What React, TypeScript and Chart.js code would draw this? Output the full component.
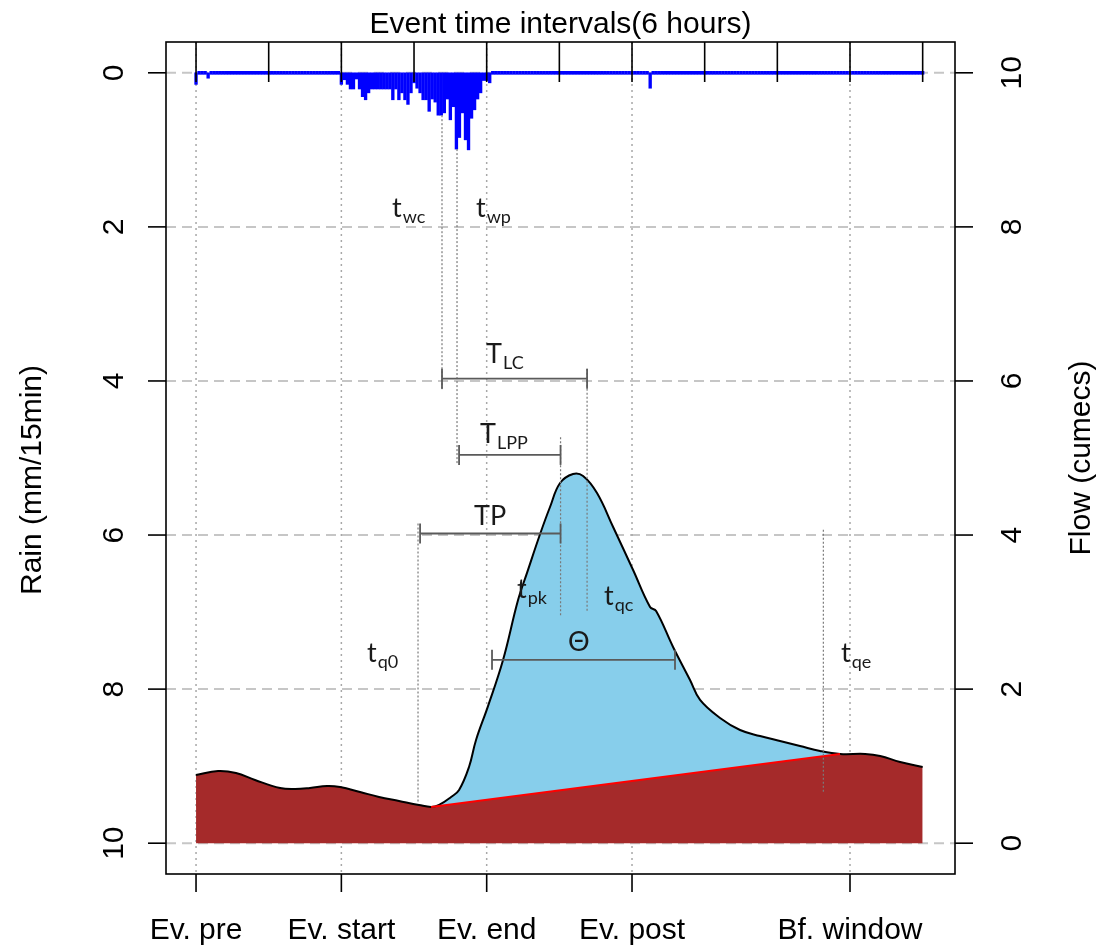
import React, { useEffect, useRef } from 'react';
import { Chart, registerables } from 'chart.js';

Chart.register(...registerables);

// ---------------- data ----------------
// rain: 15-minute intervals (0.25 h) from "Ev. pre" (0 h) to 60 h
const rainIntervalHours = 0.25;
const rainIntervalCount = 241;
const rainSpikeIndex = [0, 4, 150];
const rainSpikeMm = [0.15, 0.07, 0.2];
const rainEventStartIndex = 48;
const rainEventMm = [
  0.15, 0.09, 0.15, 0.21, 0.21, 0.08, 0.21, 0.31, 0.35, 0.26,
  0.21, 0.21, 0.21, 0.21, 0.21, 0.21, 0.21, 0.35, 0.21, 0.35,
  0.26, 0.35, 0.41, 0.26, 0.13, 0.2, 0.26, 0.35, 0.35, 0.5,
  0.34, 0.38, 0.55, 0.55, 0.52, 0.34, 0.61, 0.44, 0.99, 0.84,
  0.52, 0.87, 1.0, 0.59, 0.48, 0.34, 0.26, 0.1, 0.1, 0.13,
];

// flow hydrograph (hours, cumecs)
const flowHours = [
  0, 1.82, 3.3, 4.87, 6.94, 8.18, 9.41, 10.82, 11.89, 13.54, 15.11, 16.76, 18.41, 19.41,
  20.07, 21.06, 21.72, 22.54, 23.12, 24.11, 25.35, 26.59, 27.33, 28.41, 29.23, 30.06,
  31.13, 31.96, 33.11, 34.44, 36.09, 37.49, 37.99, 39.39, 40.79, 41.62, 43.27, 44.92,
  46.57, 48.22, 49.87, 51.53, 53.18, 55.25, 56.49, 58.14, 60,
];
const flowCumecs = [
  0.885, 0.937, 0.911, 0.82, 0.716, 0.703, 0.716, 0.742, 0.729, 0.665, 0.6, 0.548, 0.496, 0.47,
  0.496, 0.6, 0.691, 0.989, 1.34, 1.78, 2.378, 3.157, 3.508, 4.013, 4.364, 4.675,
  4.792, 4.766, 4.545, 4.104, 3.546, 3.066, 3.014, 2.547, 2.118, 1.859, 1.625, 1.469,
  1.391, 1.326, 1.262, 1.197, 1.158, 1.158, 1.132, 1.054, 0.989,
];

// baseflow separation line
const sepHours = [19.41, 53.18];
const sepCumecs = [0.47, 1.158];

// axes
const bottomTickHours = [0, 12, 24, 36, 54];
const bottomTickLabels = ['Ev. pre', 'Ev. start', 'Ev. end', 'Ev. post', 'Bf. window'];
const topTickHours = [0, 6, 12, 18, 24, 30, 36, 42, 48, 54, 60];
const rainTicks = [0, 2, 4, 6, 8, 10];
const flowTicks = [0, 2, 4, 6, 8, 10];

// vertical marker lines (twc, twp, tpk, tqc, tq0, tqe) on the rain axis
const markerHours = [20.31, 21.55, 30.1, 32.29, 18.33, 51.8];
const markerTopMm = [0.55, 0.99, 4.73, 3.84, 5.85, 5.93];
const markerBottomMm = [4.12, 5.07, 7.04, 7.0, 9.47, 9.34];

// interval bars (TLC, TLPP, TP, Theta)
const intervalStartHours = [20.31, 21.72, 18.5, 24.44];
const intervalEndHours = [32.29, 30.1, 30.1, 39.55];
const intervalLevelMm = [3.97, 4.96, 5.98, 7.62];

// annotation labels
const labelMain = ['t', 't', 'T', 'T', 'TP', 't', 't', 'Θ', 't', 't'];
const labelSub = ['wc', 'wp', 'LC', 'LPP', '', 'pk', 'qc', '', 'q0', 'qe'];
const labelHours = [16.19, 23.12, 23.95, 23.45, 22.96, 26.51, 33.69, 30.72, 14.12, 53.26];
const labelMm = [1.87, 1.87, 3.77, 4.8, 5.87, 6.82, 6.91, 7.51, 7.65, 7.65];

const AXIS_FONT = '30px "Liberation Sans", Arial, sans-serif';

function rotText(ctx: CanvasRenderingContext2D, text: string, x: number, y: number) {
  ctx.save();
  ctx.translate(x, y);
  ctx.rotate(-Math.PI / 2);
  ctx.textAlign = 'center';
  ctx.textBaseline = 'alphabetic';
  ctx.fillText(text, 0, 0);
  ctx.restore();
}

function seg(ctx: CanvasRenderingContext2D, x1: number, y1: number, x2: number, y2: number) {
  ctx.beginPath();
  ctx.moveTo(x1, y1);
  ctx.lineTo(x2, y2);
  ctx.stroke();
}

const rStylePlugin = {
  id: 'rStyle',
  beforeDatasetsDraw(chart: any) {
    const { ctx, chartArea: a, scales } = chart;
    const sx = scales.x;
    const sy = scales.y;
    ctx.save();
    ctx.lineWidth = 2;
    ctx.strokeStyle = '#c6c6c6';
    ctx.setLineDash([10, 6]);
    rainTicks.forEach((v) => {
      const p = sy.getPixelForValue(v);
      seg(ctx, a.left, p, a.right, p);
    });
    ctx.lineWidth = 1.5;
    ctx.strokeStyle = '#a8a8a8';
    ctx.setLineDash([2, 4]);
    bottomTickHours.forEach((h) => {
      const p = sx.getPixelForValue(h);
      seg(ctx, p, a.top, p, a.bottom);
    });
    ctx.restore();
  },
  afterDatasetsDraw(chart: any) {
    const { ctx, chartArea: a, scales } = chart;
    const sx = scales.x;
    const sy = scales.y;
    const sf = scales.yf;
    ctx.save();
    ctx.setLineDash([]);
    ctx.strokeStyle = '#000';
    ctx.lineWidth = 1.6;
    ctx.strokeRect(a.left, a.top, a.right - a.left, a.bottom - a.top);
    rainTicks.forEach((v) => {
      const p = sy.getPixelForValue(v);
      seg(ctx, a.left - 18, p, a.left, p);
    });
    flowTicks.forEach((v) => {
      const p = sf.getPixelForValue(v);
      seg(ctx, a.right, p, a.right + 18, p);
    });
    bottomTickHours.forEach((h) => {
      const p = sx.getPixelForValue(h);
      seg(ctx, p, a.bottom, p, a.bottom + 18);
    });
    topTickHours.forEach((h) => {
      const p = sx.getPixelForValue(h);
      seg(ctx, p, a.top, p, a.top + 40);
    });

    ctx.fillStyle = '#000';
    ctx.font = AXIS_FONT;
    ctx.textAlign = 'center';
    ctx.textBaseline = 'alphabetic';
    ctx.fillText('Event time intervals(6 hours)', (a.left + a.right) / 2, a.top - 9);
    bottomTickHours.forEach((h, i) => {
      ctx.fillText(bottomTickLabels[i], sx.getPixelForValue(h), a.bottom + 65);
    });
    rainTicks.forEach((v) => rotText(ctx, String(v), a.left - 43, sy.getPixelForValue(v)));
    flowTicks.forEach((v) => rotText(ctx, String(v), a.right + 66, sf.getPixelForValue(v)));
    const midY = (a.top + a.bottom) / 2;
    rotText(ctx, 'Rain (mm/15min)', a.left - 125, midY + 22);
    rotText(ctx, 'Flow (cumecs)', a.right + 135, midY);

    ctx.fillStyle = '#1a1a1a';
    ctx.textAlign = 'left';
    labelMain.forEach((m, i) => {
      const px = sx.getPixelForValue(labelHours[i]);
      const py = sy.getPixelForValue(labelMm[i]);
      ctx.font = '27px Lato, "Open Sans", sans-serif';
      ctx.fillText(m, px, py);
      if (labelSub[i]) {
        const w = ctx.measureText(m).width;
        ctx.font = '18px Lato, "Open Sans", sans-serif';
        ctx.fillText(labelSub[i], px + w + 1, py + 6);
      }
    });
    ctx.restore();
  },
};

export default function App() {
  const ref = useRef<HTMLCanvasElement>(null);

  useEffect(() => {
    const canvas = ref.current;
    if (!canvas) return;

    const rainData = Array.from({ length: rainIntervalCount }, (_, i) => ({ x: i * rainIntervalHours, y: 0 }));
    rainSpikeIndex.forEach((idx, k) => {
      rainData[idx].y = rainSpikeMm[k];
    });
    rainEventMm.forEach((v, k) => {
      rainData[rainEventStartIndex + k].y = v;
    });
    const flowData = flowHours.map((h, i) => ({ x: h, y: flowCumecs[i] }));
    const sepData = sepHours.map((h, i) => ({ x: h, y: sepCumecs[i] }));

    const datasets: any[] = [];
    // 0: baseflow / total area (brown)
    datasets.push({
      type: 'line', data: flowData, yAxisID: 'yf', borderWidth: 0, borderColor: 'rgba(0,0,0,0)',
      backgroundColor: '#A52A2A', fill: 'origin', pointRadius: 0, tension: 0.4, order: 10,
    });
    // 1: separation line (red)
    datasets.push({
      type: 'line', data: sepData, yAxisID: 'yf', borderColor: '#FF0000', borderWidth: 2.2,
      pointRadius: 0, fill: false, tension: 0, order: 7,
    });
    // 2: flow line (black) with event flow fill (sky blue) down to the separation line
    datasets.push({
      type: 'line', data: flowData, yAxisID: 'yf', borderColor: '#000', borderWidth: 2,
      backgroundColor: '#87CEEB', fill: { target: 1, above: '#87CEEB', below: 'rgba(0,0,0,0)' },
      pointRadius: 0, tension: 0.4, order: 8,
    });
    // 3: rain bars
    datasets.push({
      type: 'bar', data: rainData, yAxisID: 'y', backgroundColor: '#0000FF', borderWidth: 0,
      barThickness: 2.7, minBarLength: 3, grouped: false, order: 6,
    });
    markerHours.forEach((h, i) => {
      datasets.push({
        type: 'line', data: [{ x: h, y: markerTopMm[i] }, { x: h, y: markerBottomMm[i] }], yAxisID: 'y',
        borderColor: '#7a7a7a', borderWidth: 1.2, borderDash: [2, 2], pointRadius: 0, fill: false, order: 2,
      });
    });
    intervalStartHours.forEach((s, i) => {
      datasets.push({
        type: 'line', data: [{ x: s, y: intervalLevelMm[i] }, { x: intervalEndHours[i], y: intervalLevelMm[i] }],
        yAxisID: 'y', borderColor: '#5a5a5a', borderWidth: 1.8, pointStyle: 'line', pointRadius: 10,
        pointRotation: 90, pointBorderColor: '#5a5a5a', pointBackgroundColor: '#5a5a5a', pointBorderWidth: 1.8,
        fill: false, order: 1,
      });
    });

    const chart = new Chart(canvas, {
      type: 'line',
      data: { datasets },
      options: {
        responsive: false,
        animation: false,
        events: [],
        layout: { padding: { left: 166, right: 152, top: 42, bottom: 73 } },
        plugins: { legend: { display: false }, tooltip: { enabled: false } },
        scales: {
          x: { type: 'linear', min: -2.48, max: 62.67, display: false, offset: false },
          y: { type: 'linear', min: -0.4, max: 10.4, reverse: true, display: false },
          yf: { type: 'linear', min: -0.4, max: 10.4, display: false },
        },
      } as any,
      plugins: [rStylePlugin as any],
    });
    return () => chart.destroy();
  }, []);

  return (
    <div style={{ position: 'fixed', left: 0, top: 0, width: 1107, height: 947, background: '#fff' }}>
      <canvas ref={ref} width={1107} height={947} style={{ display: 'block' }} />
    </div>
  );
}
